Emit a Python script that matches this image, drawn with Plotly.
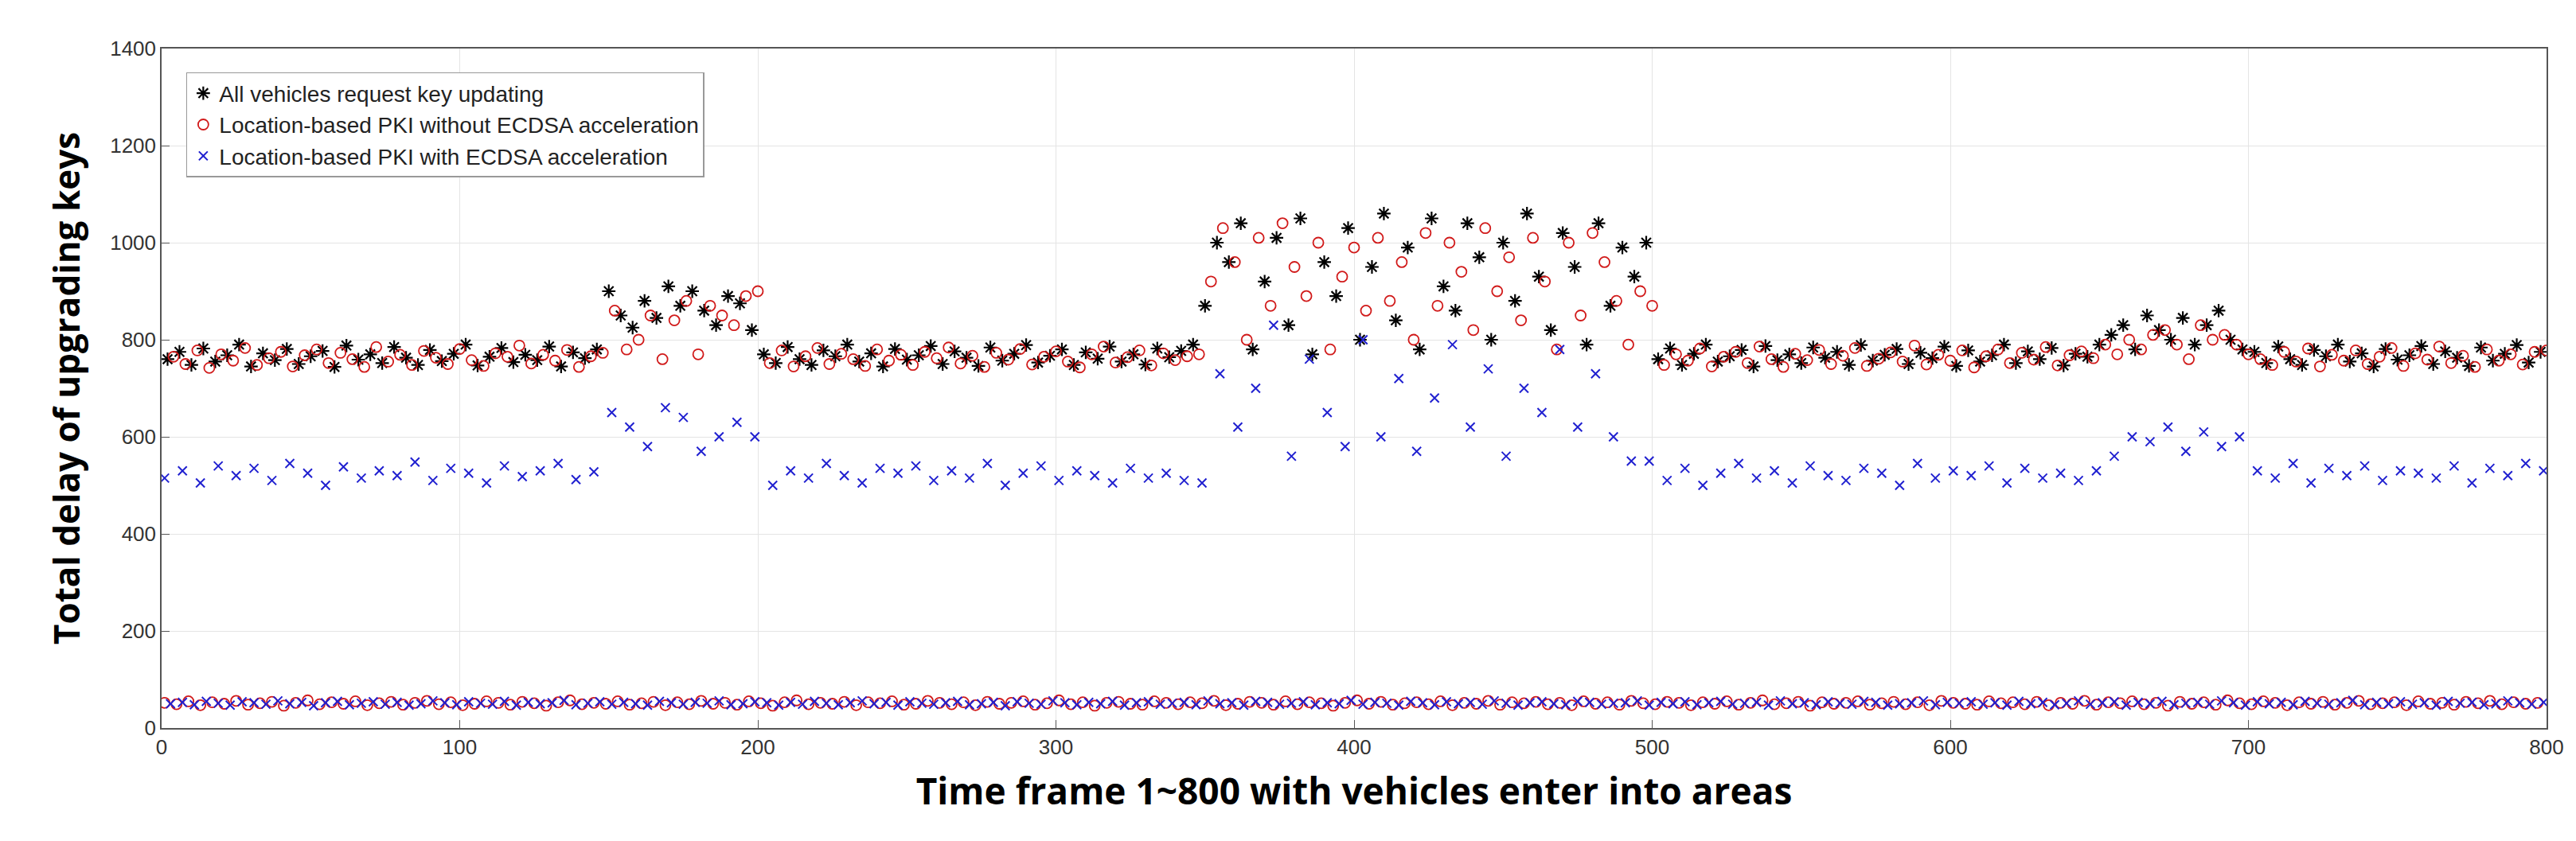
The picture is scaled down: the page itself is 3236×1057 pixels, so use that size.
import plotly.graph_objects as go

black_x = list(range(2, 800, 4))
black_y = ([760,775,748,782,755,768,790,745,772,758,781,750,766,777,744,788,759,770,752,785,763,748,779,756,771,790,747,765,783,754,769,758,786,745,774,762,780]
 + [900,850,825,880,845,910,870,900,860,830,890,875,820]
 + [770,752,785,760,748,778,766,790,755,772,745,781,759,768,787,750,776,763,746,784,757,771,789,753,767,780,748,774,761,786,755,770,749,782,764,777,790]
 + [870,1000,960,1040,780,920,1010,830,1050,770,960,890,1030,800,950,1060,840,990,780,1050,910,860,1040,970,800,1000,880,1060,930,820,1020,950,790,1040,870,990,930,1000]
 + [760,782,748,771,790,755,766,779,745,787,758,770,752,784,763,775,748,789,757,769,781,750,773,762,786,746,778,755,768,790,752,776,760,783,747,771,765]
 + [790,810,830,780,850,820,800,845,790,830,860,800,780]
 + [775,752,786,760,748,779,766,790,755,772,745,781,759,768,787,750,776,763,746,784,757,771,789,753,775])

red_x = list(range(4, 801, 4))
red_y = ([765,750,778,742,770,757,783,748,762,775,745,768,780,752,773,760,744,785,755,769,748,777,763,750,781,758,746,772,765,788,751,769,757,779,744,766,773]
 + [860,780,800,850,760,840,880,770,870,850,830,890,900]
 + [752,778,745,766,783,750,771,760,746,780,757,769,748,775,762,784,751,767,744,773,759,781,749,765,776,755,743,770,786,753,764,778,747,772,758,766,770]
 + [920,1030,960,800,1010,870,1040,950,890,1000,780,930,990,860,1010,880,960,800,1020,870,1000,940,820,1030,900,970,840,1010,920,780,1000,850,1020,960,880,790,900,870]
 + [748,770,757,782,745,765,775,752,786,760,744,771,758,779,750,767,783,746,761,774,755,788,749,769,757,778,743,766,780,752,773,759,785,747,768,776,762]
 + [790,770,800,780,810,820,790,760,830,800,810,790,770]
 + [760,748,775,755,782,745,769,757,778,750,765,783,746,772,759,786,752,767,744,780,757,770,749,775,778])

blue_x = list(range(1, 800, 6))
blue_y = ([515,530,505,540,520,535,510,545,525,500,538,515,530,520,548,510,535,525,505,540,518,530,545,512,528]
 + [650,620,580,660,640,570,600,630,600]
 + [500,530,515,545,520,505,535,525,540,510,530,515,545,500,525,540,510,530,520,505,535,515,525,510,505]
 + [730,620,700,830,560,760,650,580,800,600,720,570,680,790,620,740,560,700,650,780,620,730,600,550,550]
 + [510,535,500,525,545,515,530,505,540,520,510,535,525,500,545,515,530,520,540,505,535,515,525,510,530]
 + [560,600,590,620,570,610,580,600]
 + [530,515,545,505,535,520,540,510,530,525,515,540,505,535,520,545,530])

low_red_x = list(range(1, 800, 4))
low_red_y = [52,49,55,47,53,50,56,48,51,54,46,52,57,49,53,50,55,47,51,54,48,52,56,49,53,47,50,55,52,48,54,51,46,53,57,49,52,50,55,48,
             51,54,47,53,49,56,50,52,48,55,51,46,53,57,49,52,50,54,47,53,51,55,48,50,56,52,49,53,47,54,50,52,55,48,51,57,49,53,46,52,
             54,50,48,55,52,49,53,51,56,47,50,54,52,48,55,49,53,51,46,52,57,50,54,48,51,53,49,55,47,52,50,56,48,53,51,54,49,52,47,55,
             50,53,48,56,51,49,54,52,47,53,50,55,48,52,57,49,51,54,46,53,50,52,55,48,51,54,49,53,47,56,52,50,48,55,51,53,49,54,47,52,
             50,56,48,53,51,55,49,52,46,54,50,53,48,57,51,49,55,52,47,53,50,54,48,52,56,49,51,53,47,55,50,52,48,54,51,56,49,53,50,52]
low_blue_x = list(range(3, 801, 4))
low_blue_y = [50,53,48,55,51,47,54,52,49,56,50,53,46,52,55,48,51,54,49,53,47,50,56,52,48,54,51,49,55,47,53,50,52,57,48,51,54,49,53,50,
              47,55,52,49,53,51,56,48,50,54,52,47,53,49,55,51,48,52,56,50,53,47,54,51,49,52,55,48,50,53,46,54,51,49,56,52,48,53,50,55,
              47,52,54,49,51,53,48,56,50,52,47,55,53,49,51,54,48,52,50,57,49,53,51,47,55,52,48,54,50,53,49,56,51,47,52,54,50,48,55,53,
              49,51,52,56,47,53,50,54,48,52,55,49,51,53,47,56,50,52,48,54,51,49,55,53,47,50,52,56,48,53,51,54,49,52,47,55,50,53,48,51,
              56,49,52,54,47,53,50,55,48,51,53,49,56,52,47,54,50,53,48,55,51,49,52,57,48,53,50,54,49,52,47,55,51,53,48,50,56,52,49,53]

red_marker = dict(symbol="circle-open", size=13, color="#d11a1a", line=dict(width=1.8))
blue_marker = dict(symbol="x-thin-open", size=11, color="#2020d0", line=dict(color="#2020d0", width=2))

fig = go.Figure()
fig.add_trace(go.Scatter(x=black_x, y=black_y, mode="markers", name="All vehicles request key updating",
                         marker=dict(symbol="asterisk-open", size=14, color="black", line=dict(color="black", width=2.2))))
fig.add_trace(go.Scatter(x=red_x, y=red_y, mode="markers", name="Location-based PKI without ECDSA acceleration",
                         marker=red_marker))
fig.add_trace(go.Scatter(x=low_red_x, y=low_red_y, mode="markers", showlegend=False, marker=red_marker))
fig.add_trace(go.Scatter(x=blue_x, y=blue_y, mode="markers", name="Location-based PKI with ECDSA acceleration",
                         marker=blue_marker))
fig.add_trace(go.Scatter(x=low_blue_x, y=low_blue_y, mode="markers", showlegend=False, marker=blue_marker))

axis_common = dict(showgrid=True, gridcolor="#e4e4e4", showline=True, linecolor="#555", linewidth=1.5,
                   mirror=True, ticks="inside", ticklen=10, tickcolor="#555", zeroline=False,
                   tickfont=dict(family="Liberation Sans", size=26, color="#333"))
fig.update_xaxes(range=[0, 800], dtick=100, **axis_common,
                 title=dict(text="<b>Time frame 1~800 with vehicles enter into areas</b>", standoff=26,
                            font=dict(family="Open Sans", size=46, color="black")))
fig.update_yaxes(range=[0, 1400], dtick=200, **axis_common,
                 title=dict(text="<b>Total delay of upgrading keys</b>", standoff=24,
                            font=dict(family="Open Sans", size=44, color="black")))
fig.update_layout(width=3236, height=1057, plot_bgcolor="white", paper_bgcolor="white",
                  margin=dict(l=195, r=45, t=53, b=150),
                  legend=dict(x=0.0103, y=0.965, xanchor="left", yanchor="top", bgcolor="white",
                              bordercolor="#999", borderwidth=1.5, tracegroupgap=8,
                              font=dict(family="Liberation Sans", size=28, color="#222")))
fig.write_html("out.html")
